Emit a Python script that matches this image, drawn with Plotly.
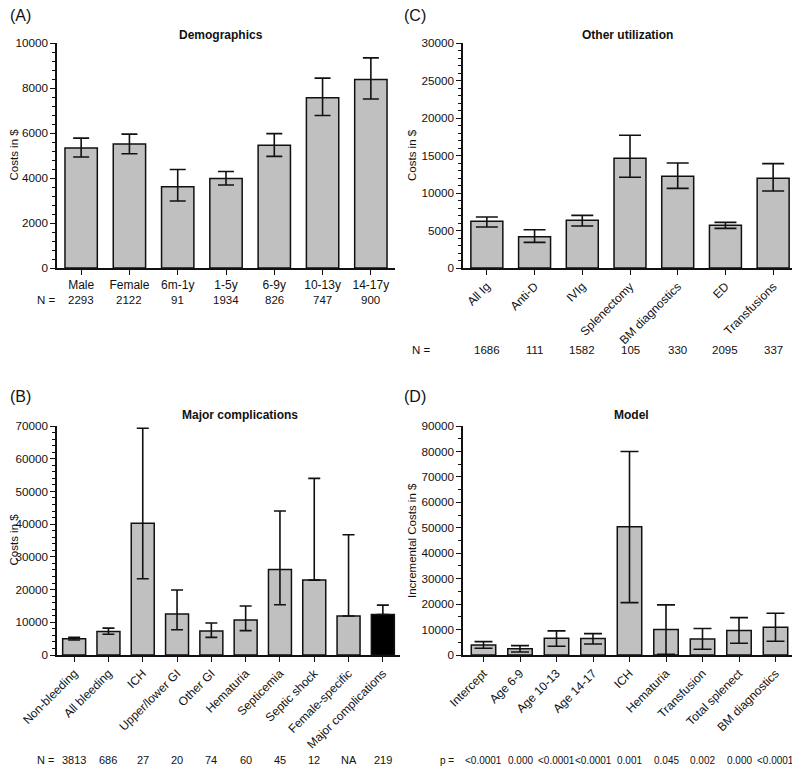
import plotly.graph_objects as go

# (A) Demographics
a_cats = ['Male', 'Female', '6m-1y', '1-5y', '6-9y', '10-13y', '14-17y']
a_mean = [5330, 5510, 3610, 3980, 5450, 7570, 8380]
a_hi = [5770, 5950, 4380, 4290, 5970, 8440, 9340]
a_lo = [4930, 5080, 2980, 3690, 4960, 6780, 7510]
a_n = ['2293', '2122', '91', '1934', '826', '747', '900']

# (C) Other utilization
c_cats = ['All Ig', 'Anti-D', 'IVIg', 'Splenectomy', 'BM diagnostics', 'ED', 'Transfusions']
c_mean = [6220, 4180, 6360, 14620, 12220, 5690, 11960]
c_hi = [6800, 5110, 7020, 17690, 14000, 6090, 13910]
c_lo = [5470, 3420, 5600, 12090, 10620, 5290, 10270]
c_n = ['1686', '111', '1582', '105', '330', '2095', '337']

# (B) Major complications
b_cats = ['Non-bleeding', 'All bleeding', 'ICH', 'Upper/lower GI', 'Other GI',
          'Hematuria', 'Septicemia', 'Septic shock', 'Female-specific', 'Major complications']
b_mean = [5000, 7150, 40250, 12500, 7350, 10700, 26150, 22900, 11900, 12400]
b_hi = [5400, 8200, 69300, 19850, 9800, 15000, 44000, 54000, 36750, 15250]
b_lo = [4600, 6350, 23300, 7700, 5400, 7450, 15350, 22900, 11900, 12400]
b_n = ['3813', '686', '27', '20', '74', '60', '45', '12', 'NA', '219']

# (D) Model
d_cats = ['Intercept', 'Age 6-9', 'Age 10-13', 'Age 14-17', 'ICH', 'Hematuria',
          'Transfusion', 'Total splenect', 'BM diagnostics']
d_mean = [3950, 2500, 6580, 6450, 50400, 10000, 6300, 9600, 10900]
d_hi = [5260, 3680, 9470, 8420, 80000, 19700, 10400, 14700, 16400]
d_lo = [2630, 1180, 3420, 4340, 20600, 260, 2240, 4600, 5400]
d_p = ['<0.0001', '0.000', '<0.0001', '<0.0001', '0.001', '0.045', '0.002', '0.000', '<0.0001']

# page body has an 8px margin, so the figure is 8px smaller and all
# positions below are given in page pixels and shifted here
OFF = 8
W, H = 800 - OFF, 769 - OFF
FONT = 'Liberation Sans, Arial, sans-serif'
GREY = '#c0c0c0'


def px_x(p):
    return (p - OFF) / W


def px_y(p):
    return 1 - (p - OFF) / H


def bar(cats, mean, hi, lo, xa, ya, cap, colors=None):
    return go.Bar(
        x=cats, y=mean, xaxis=xa, yaxis=ya,
        marker=dict(color=colors or GREY, line=dict(color='#111', width=1.5)),
        error_y=dict(type='data', symmetric=False,
                     array=[h - m for h, m in zip(hi, mean)],
                     arrayminus=[m - l for m, l in zip(mean, lo)],
                     color='#111', thickness=1.6, width=cap),
        showlegend=False, hoverinfo='x+y',
    )


fig = go.Figure()
fig.add_trace(bar(a_cats, a_mean, a_hi, a_lo, 'x', 'y', 8))
fig.add_trace(bar(c_cats, c_mean, c_hi, c_lo, 'x2', 'y2', 11))
b_colors = [GREY] * (len(b_cats) - 1) + ['#000']
fig.add_trace(bar(b_cats, b_mean, b_hi, b_lo, 'x3', 'y3', 6, b_colors))
fig.add_trace(bar(d_cats, d_mean, d_hi, d_lo, 'x4', 'y4', 9))


def xax(left, right, anchor, angle):
    return dict(domain=[px_x(left), px_x(right)], anchor=anchor, showline=True,
                linecolor='#111', linewidth=1.5, ticks='outside', ticklen=5,
                tickwidth=1.2, tickcolor='#111', tickangle=angle, automargin=False,
                tickfont=dict(size=12, color='#111'), showgrid=False)


def yax(top, bottom, anchor, rng, dt, minor_dt):
    return dict(domain=[px_y(bottom), px_y(top)], anchor=anchor, range=rng,
                showline=True, linecolor='#111', linewidth=1.5, ticks='outside',
                ticklen=5, tickwidth=1.2, tickcolor='#111', dtick=dt, tick0=0,
                tickformat='d', showgrid=False, zeroline=False, automargin=False,
                tickfont=dict(size=11.7, color='#111'),
                minor=dict(ticks='outside', ticklen=3, tickwidth=1, tickcolor='#111',
                           dtick=minor_dt, tick0=0, showgrid=False))


fig.update_layout(
    width=W, height=H,
    margin=dict(l=0, r=0, t=0, b=0),
    paper_bgcolor='white', plot_bgcolor='white',
    font=dict(family=FONT, size=12, color='#111'),
    bargap=0.33,
    xaxis=xax(57, 395, 'y', 0),
    yaxis=yax(43, 268, 'x', [0, 10000], 2000, 400),
    xaxis2=xax(463, 797, 'y2', -45),
    yaxis2=yax(43, 268, 'x2', [0, 30000], 5000, 1000),
    xaxis3=xax(57, 400, 'y3', -45),
    yaxis3=yax(426, 655, 'x3', [0, 70000], 10000, 2000),
    xaxis4=xax(463, 796, 'y4', -45),
    yaxis4=yax(426, 655, 'x4', [0, 90000], 10000, 5000),
)

notes = [
    ('(A)', 8, 16, 16, 'left'),
    ('(C)', 402, 16, 16, 'left'),
    ('(B)', 8, 396, 16, 'left'),
    ('(D)', 402, 396, 16, 'left'),
    ('<b>Demographics</b>', 221, 35, 12, 'center'),
    ('<b>Other utilization</b>', 627, 35, 12, 'center'),
    ('<b>Major complications</b>', 240, 415, 12, 'center'),
    ('<b>Model</b>', 631, 415, 12, 'center'),
]
for text, x, y, size, anchor in notes:
    fig.add_annotation(text=text, x=px_x(x), y=px_y(y), xref='paper', yref='paper',
                       xanchor=anchor, yanchor='middle', showarrow=False,
                       font=dict(size=size, color='#111'))

# y axis titles
for text, x, y in [('Costs in $', 13.5, 155), ('Costs in $', 412, 155),
                   ('Costs in $', 13.5, 540), ('Incremental Costs in $', 412, 540)]:
    fig.add_annotation(text=text, x=px_x(x), y=px_y(y), xref='paper', yref='paper',
                       xanchor='center', yanchor='middle', textangle=-90,
                       showarrow=False, font=dict(size=11.5, color='#111'))

# N / p rows under the axes
rows = [
    ('N =', 46, 300, 'x', a_cats, a_n, 11.5),
    ('N =', 421, 350, 'x2', c_cats, c_n, 11.5),
    ('N =', 45, 760, 'x3', b_cats, b_n, 11),
    ('p =', 447, 760, 'x4', d_cats, d_p, 10),
]
for label, lx, y, xa, cats, vals, size in rows:
    fig.add_annotation(text=label, x=px_x(lx), y=px_y(y), xref='paper', yref='paper',
                       xanchor='center', yanchor='middle', showarrow=False,
                       font=dict(size=size, color='#111'))
    for cat, v in zip(cats, vals):
        fig.add_annotation(text=v, x=cat, y=px_y(y), xref=xa, yref='paper',
                           xanchor='center', yanchor='middle', showarrow=False,
                           font=dict(size=size, color='#111'))

fig.write_html('out.html')
